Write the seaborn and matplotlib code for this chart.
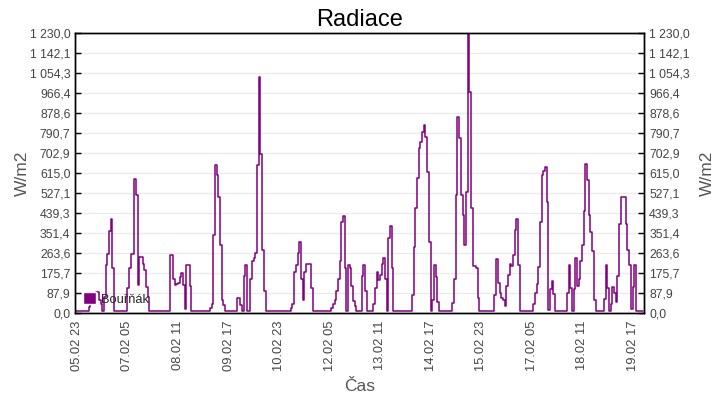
import matplotlib
matplotlib.use("Agg")
import matplotlib.pyplot as plt
import numpy as np
import pandas as pd
import seaborn as sns
from matplotlib.patches import Patch
from matplotlib.ticker import FixedLocator, FuncFormatter

# -------------------------
# DATA (hourly, W/m2)
# -------------------------
start = "2021-02-05 22:00"
den_0502 = [10, 10]
den_0602 = [10, 10, 10, 10, 10, 10, 26, 58, 65, 75, 92, 92,
            58, 40, 10, 70, 211, 259, 362, 413, 200, 11, 10, 10]
den_0702 = [10, 10, 10, 10, 10, 113, 198, 259, 259, 589, 520, 124,
            246, 246, 215, 190, 117, 70, 10, 10, 10, 10, 10, 10]
den_0802 = [10, 10, 10, 10, 10, 10, 256, 256, 150, 125, 130, 135,
            160, 175, 124, 17, 211, 211, 120, 10, 10, 10, 10, 10]
den_0902 = [10, 10, 10, 10, 10, 10, 25, 40, 345, 650, 607, 510,
            300, 60, 35, 10, 10, 10, 10, 10, 10, 10, 65, 65]
den_1002 = [36, 10, 163, 211, 10, 10, 150, 228, 243, 263, 650, 1040,
            700, 279, 100, 10, 10, 10, 10, 10, 10, 10, 10, 10]
den_1102 = [10, 10, 10, 10, 10, 10, 25, 40, 183, 212, 263, 313,
            150, 58, 180, 215, 215, 215, 112, 10, 10, 10, 10, 10]
den_1202 = [10, 10, 10, 10, 10, 10, 22, 40, 60, 100, 150, 230,
            400, 429, 200, 10, 211, 200, 120, 55, 30, 10, 10, 10]
den_1302 = [163, 211, 100, 10, 10, 10, 10, 39, 112, 180, 145, 170,
            217, 243, 150, 10, 330, 385, 199, 10, 10, 10, 10, 10]
den_1402 = [10, 10, 10, 10, 10, 10, 80, 293, 461, 593, 725, 754,
            798, 827, 776, 622, 315, 10, 60, 211, 159, 51, 10, 10]
den_1502 = [10, 10, 10, 10, 10, 10, 44, 150, 519, 863, 768, 520,
            432, 299, 534, 1230, 973, 461, 209, 209, 200, 66, 10, 10]
den_1602 = [10, 10, 10, 10, 10, 10, 10, 80, 237, 132, 91, 66,
            57, 32, 120, 170, 215, 207, 256, 366, 413, 212, 10, 10]
den_1702 = [10, 10, 10, 10, 10, 10, 39, 90, 127, 204, 400, 607,
            624, 643, 487, 13, 108, 141, 83, 10, 10, 10, 10, 10]
den_1802 = [10, 10, 90, 210, 110, 10, 105, 243, 122, 150, 230, 300,
            450, 657, 585, 432, 357, 272, 60, 10, 10, 10, 10, 10]
den_1902 = [61, 211, 112, 10, 39, 115, 90, 50, 163, 391, 510, 510,
            510, 390, 278, 212, 20, 117, 210, 8, 8, 8, 8, 8]

radiace = (den_0502 + den_0602 + den_0702 + den_0802 + den_0902 + den_1002
           + den_1102 + den_1202 + den_1302 + den_1402 + den_1502 + den_1602
           + den_1702 + den_1802 + den_1902)
casy = pd.date_range(start, periods=len(radiace), freq="h")
df = pd.DataFrame({"cas": casy, "radiace": radiace})

tick_casy = pd.date_range("2021-02-05 23:00", periods=12, freq="30h")
y_max = 1230.0
y_ticks = np.linspace(0, y_max, 15)


def cz_format(v, pos=None):
    return f"{v:,.1f}".replace(",", " ").replace(".", ",")


# -------------------------
# PLOT
# -------------------------
sns.set_style("white")
plt.rcParams["font.family"] = ["Liberation Sans", "DejaVu Sans"]

fig = plt.figure(figsize=(7.2, 4.0), dpi=100)
ax = fig.add_axes([0.1046, 0.2168, 0.7903, 0.7000])

sns.lineplot(data=df, x="cas", y="radiace", ax=ax, color="#800080",
             drawstyle="steps-post", linewidth=1.1, legend=False)

ax.set_xlim(casy[0], pd.Timestamp("2021-02-20 00:00"))
ax.set_ylim(0, y_max)
ax.yaxis.set_major_locator(FixedLocator(y_ticks))
ax.yaxis.set_major_formatter(FuncFormatter(cz_format))
ax.set_xticks(tick_casy)
ax.set_xticklabels([t.strftime("%d.%m %H") for t in tick_casy], rotation=90)
ax.grid(axis="y", color="#ebebeb", linewidth=1)
ax.set_axisbelow(True)

ax2 = ax.twinx()
ax2.set_ylim(0, y_max)
ax2.yaxis.set_major_locator(FixedLocator(y_ticks))
ax2.yaxis.set_major_formatter(FuncFormatter(cz_format))

for a in (ax, ax2):
    a.tick_params(direction="in", length=4, width=1, colors="black",
                  labelcolor="#444444", labelsize=8.8)
    for s in a.spines.values():
        s.set_color("black")
        s.set_linewidth(1)
ax.tick_params(axis="x", labelsize=9.3, pad=5)

ax.set_title("Radiace", fontsize=17, color="black", pad=5)
ax.set_xlabel("Čas", fontsize=12.5, color="#555555", labelpad=6)
ax.set_ylabel("W/m2", fontsize=12.5, color="#555555", labelpad=0)
ax2.set_ylabel("W/m2", fontsize=12.5, color="#555555", labelpad=7)

ax.legend(handles=[Patch(facecolor="#800080", label="Bouřňák")],
          loc="lower left", frameon=False, fontsize=9.3,
          handlelength=1.0, handleheight=1.1, handletextpad=0.4,
          borderaxespad=0.3, borderpad=0.3)

fig.savefig("out.png", dpi=100)
plt.close(fig)
